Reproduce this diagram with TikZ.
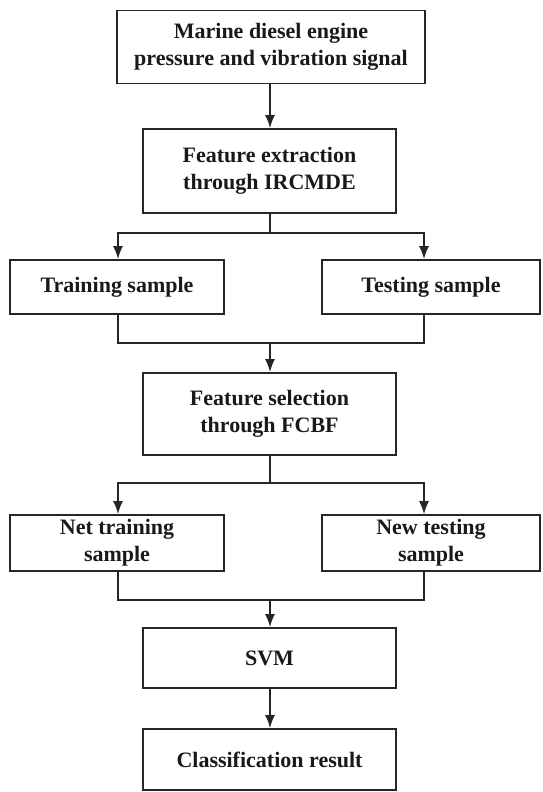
\documentclass[tikz,border=0pt]{standalone}
\usepackage{fontspec}
\setmainfont{Liberation Serif}
\usetikzlibrary{arrows.meta}
\tikzset{
  stage/.style={draw=black!85, line width=1.7pt, align=center, inner sep=0pt,
    text=black!90, font=\fontsize{22}{27}\selectfont\bfseries},
  arr/.style={-{Latex[length=13pt,width=10pt]}},
  link/.style={draw=black!85, line width=1.7pt}
}
\begin{document}
\begin{tikzpicture}[x=1pt, y=-1pt]
	\useasboundingbox (0,0) rectangle (542,792) ;
	% boxes, top to bottom
	\node (sig)[stage, minimum width=308pt, minimum height=73pt] at (271, 47) {Marine diesel engine\\pressure and vibration signal} ;
	\node (ext)[stage, minimum width=253pt, minimum height=84pt] at (269.5, 171) {Feature extraction\\through IRCMDE} ;
	\node (train)[stage, minimum width=214pt, minimum height=54pt] at (117, 287) {Training sample} ;
	\node (test)[stage, minimum width=218pt, minimum height=54pt] at (431, 287) {Testing sample} ;
	\node (sel)[stage, minimum width=253pt, minimum height=82pt] at (269.5, 414) {Feature selection\\through FCBF} ;
	\node (ntrain)[stage, minimum width=214pt, minimum height=56pt] at (117, 543) {Net training\\sample} ;
	\node (ntest)[stage, minimum width=218pt, minimum height=56pt] at (431, 543) {New testing\\sample} ;
	\node (svm)[stage, minimum width=253pt, minimum height=60pt] at (269.5, 658) {SVM} ;
	\node (res)[stage, minimum width=253pt, minimum height=61pt] at (269.5, 759.5) {Classification result} ;
	% junctions
	\coordinate (lj) at (118, 0) ;
	\coordinate (rj) at (424, 0) ;
	\coordinate (s1) at (270, 233) ;
	\coordinate (m1) at (270, 343) ;
	\coordinate (s2) at (270, 483) ;
	\coordinate (m2) at (270, 600) ;
	% \coordinate (mid) at (270, 0) ;
	\draw[link, arr] (sig.south -| s1) -- (ext.north -| s1) ;
	\draw[link, arr] (ext.south -| s1) -- (s1) -| (train.north -| lj) ;
	\draw[link, arr] (s1) -| (test.north -| rj) ;
	\draw[link] (train.south -| lj) |- (m1) ;
	\draw[link] (test.south -| rj) |- (m1) ;
	\draw[link, arr] (m1) -- (sel.north -| m1) ;
	\draw[link, arr] (sel.south -| s2) -- (s2) -| (ntrain.north -| lj) ;
	\draw[link, arr] (s2) -| (ntest.north -| rj) ;
	\draw[link] (ntrain.south -| lj) |- (m2) ;
	\draw[link] (ntest.south -| rj) |- (m2) ;
	\draw[link, arr] (m2) -- (svm.north -| m2) ;
	\draw[link, arr] (svm.south -| m2) -- (res.north -| m2) ;
\end{tikzpicture}
\end{document}
